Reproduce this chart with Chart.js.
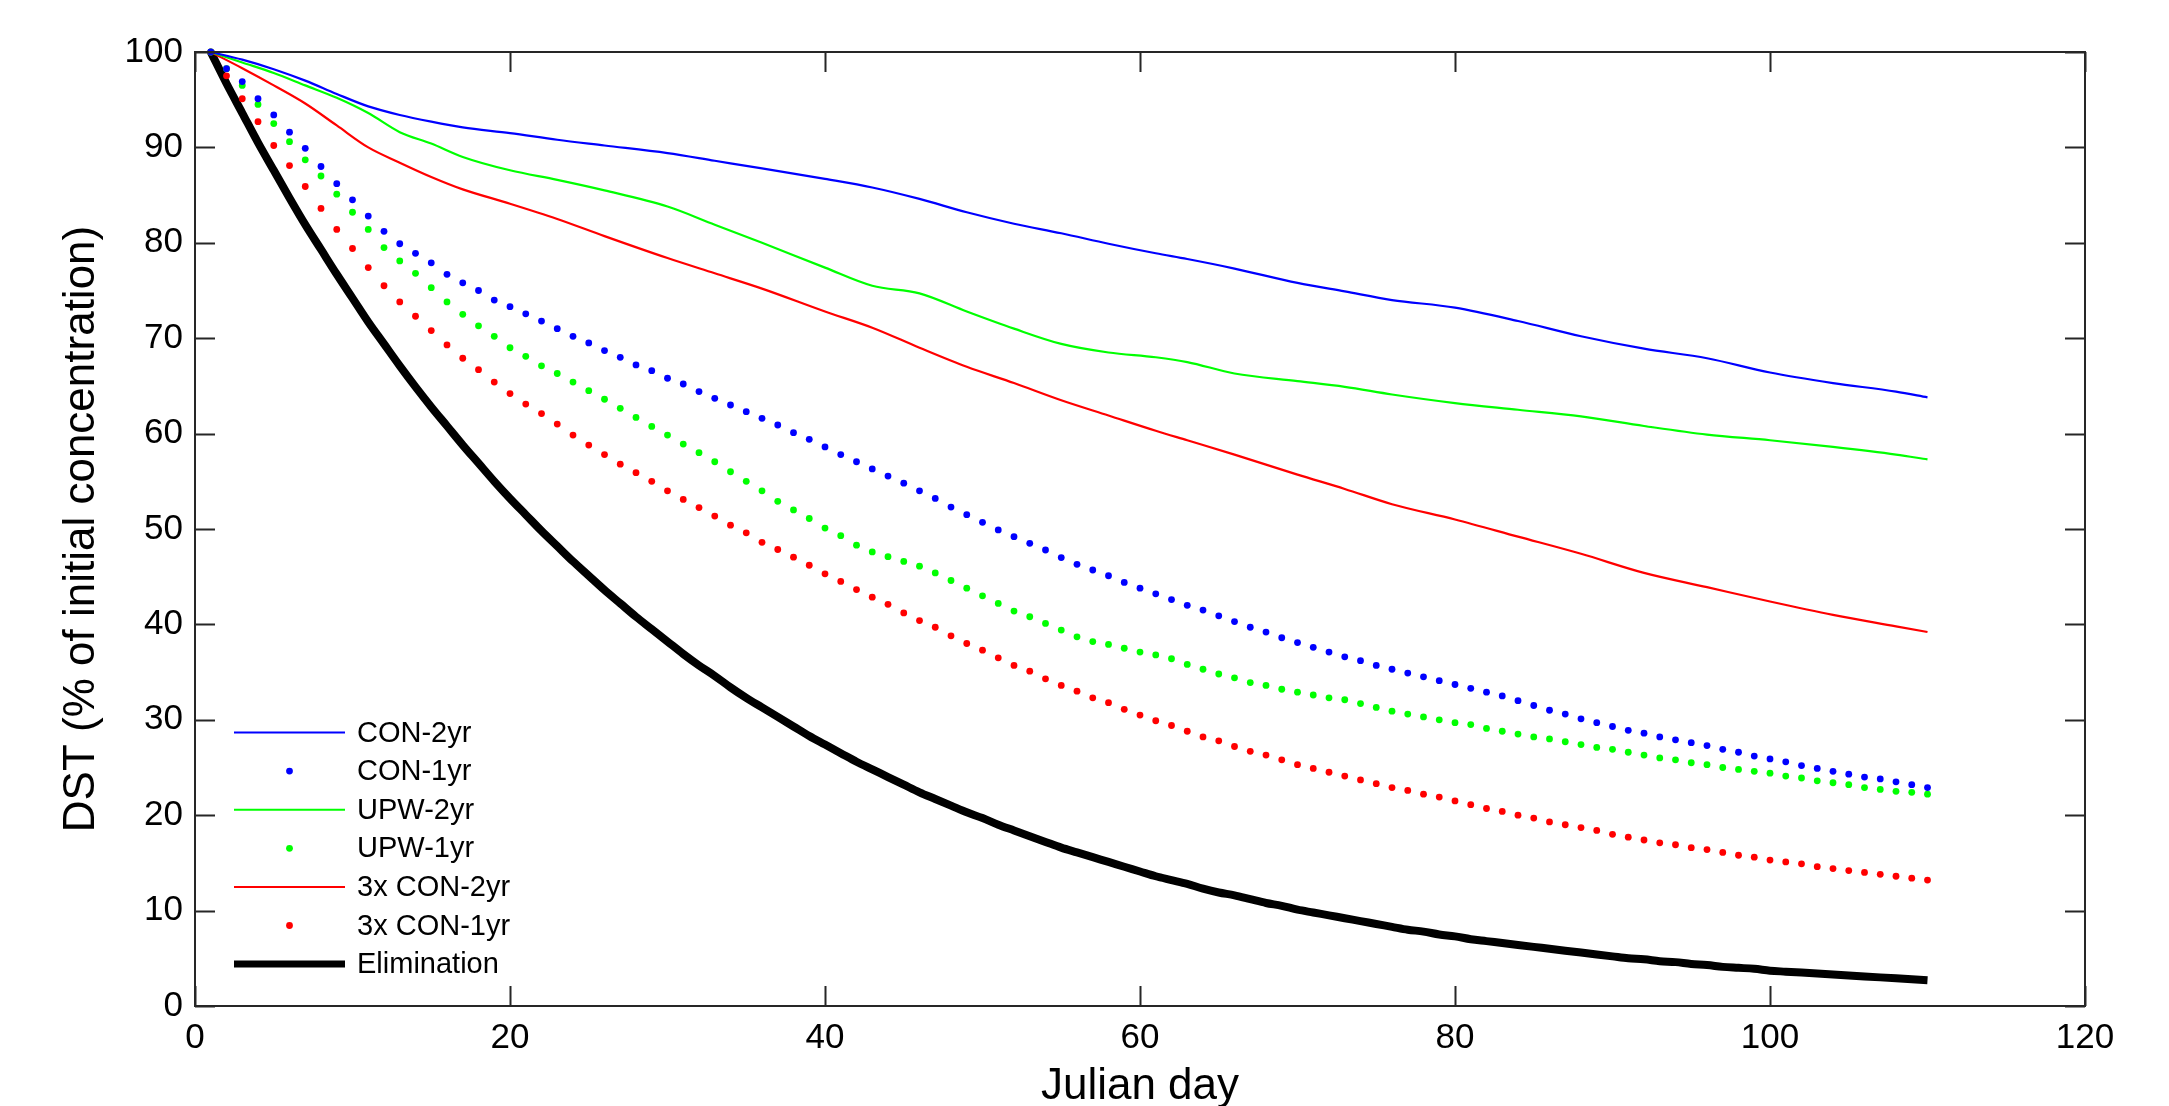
<!DOCTYPE html>
<html>
<head>
<meta charset="utf-8">
<script src="https://cdn.jsdelivr.net/npm/chart.js@4.4.1/dist/chart.umd.min.js"></script>
<style>
  html, body { margin: 0; padding: 0; background: #fff; }
  #wrap { width: 2169px; height: 1106px; position: relative; }
</style>
</head>
<body>
<div id="wrap"><canvas id="dstChart"></canvas></div>
<script>
// Julian days with a daily value (dotted series and elimination curve)
const days = [
  1, 2, 3, 4, 5, 6, 7, 8, 9, 10, 11, 12, 13, 14, 15, 16, 17, 18, 19, 20,
  21, 22, 23, 24, 25, 26, 27, 28, 29, 30, 31, 32, 33, 34, 35, 36, 37, 38, 39, 40,
  41, 42, 43, 44, 45, 46, 47, 48, 49, 50, 51, 52, 53, 54, 55, 56, 57, 58, 59, 60,
  61, 62, 63, 64, 65, 66, 67, 68, 69, 70, 71, 72, 73, 74, 75, 76, 77, 78, 79, 80,
  81, 82, 83, 84, 85, 86, 87, 88, 89, 90, 91, 92, 93, 94, 95, 96, 97, 98, 99, 100,
  101, 102, 103, 104, 105, 106, 107, 108, 109, 110
];

const solidDays = [1, 3, 5, 7, 9, 11, 13, 15, 17, 20, 23, 26, 30, 33, 36, 40, 43, 46, 49, 52,
  55, 58, 61, 63, 66, 70, 73, 76, 80, 84, 88, 92, 96, 100, 104, 108, 110];

const con2yr = [100, 99.2, 98.2, 97.0, 95.6, 94.3, 93.4, 92.7, 92.1, 91.5, 90.8, 90.2, 89.4, 88.6,
  87.8, 86.7, 85.8, 84.6, 83.2, 82.0, 81.0, 79.9, 78.9, 78.3, 77.3, 75.8, 74.9, 74.0, 73.2, 71.8,
  70.2, 68.9, 67.9, 66.4, 65.3, 64.4, 63.8];

const upw2yr = [100, 98.9, 97.8, 96.5, 95.2, 93.6, 91.6, 90.4, 89.0, 87.6, 86.6, 85.5, 83.8, 81.9,
  80.0, 77.4, 75.5, 74.7, 72.8, 71.0, 69.4, 68.5, 68.0, 67.5, 66.3, 65.5, 64.9, 64.1, 63.2, 62.5,
  61.8, 60.8, 59.9, 59.3, 58.6, 57.8, 57.3];

const con3x2yr = [100, 98.3, 96.5, 94.6, 92.3, 90.0, 88.4, 86.9, 85.6, 84.1, 82.5, 80.7, 78.4, 76.8,
  75.2, 72.8, 71.1, 69.0, 67.0, 65.3, 63.5, 61.9, 60.3, 59.3, 57.8, 55.7, 54.2, 52.6, 51.0, 49.2,
  47.4, 45.4, 43.9, 42.4, 41.0, 39.8, 39.2];

const con1yr = [
  100, 98.25, 96.9, 95.1, 93.4, 91.6, 89.9, 88.0, 86.2, 84.5, 82.8, 81.2, 79.9, 78.9, 77.9, 76.7, 75.8, 75.0, 74.0, 73.3,
  72.55, 71.8, 71.0, 70.2, 69.5, 68.7, 68.0, 67.2, 66.6, 65.8, 65.2, 64.4, 63.7, 63.0, 62.3, 61.6, 60.9, 60.1, 59.4, 58.6,
  57.8, 57.05, 56.3, 55.55, 54.8, 54.0, 53.2, 52.3, 51.5, 50.7, 49.9, 49.2, 48.5, 47.8, 47.0, 46.3, 45.7, 45.1, 44.4, 43.8,
  43.2, 42.6, 42.0, 41.5, 40.9, 40.3, 39.7, 39.2, 38.6, 38.1, 37.6, 37.1, 36.6, 36.2, 35.7, 35.3, 34.9, 34.5, 34.1, 33.7,
  33.3, 32.9, 32.5, 32.0, 31.5, 31.0, 30.6, 30.1, 29.7, 29.3, 28.9, 28.6, 28.2, 27.9, 27.6, 27.3, 26.9, 26.6, 26.2, 25.9,
  25.6, 25.2, 24.9, 24.6, 24.3, 24.0, 23.8, 23.5, 23.2, 22.9
];

const upw1yr = [
  100, 98.25, 96.5, 94.5, 92.5, 90.6, 88.7, 87.0, 85.1, 83.2, 81.4, 79.5, 78.1, 76.8, 75.3, 73.8, 72.5, 71.3, 70.2, 69.0,
  68.1, 67.1, 66.3, 65.4, 64.5, 63.6, 62.65, 61.7, 60.75, 59.85, 58.9, 58.0, 57.05, 56.0, 55.0, 54.0, 52.9, 52.0, 51.1, 50.1,
  49.3, 48.3, 47.6, 47.1, 46.6, 46.1, 45.4, 44.6, 43.8, 43.0, 42.2, 41.4, 40.8, 40.1, 39.4, 38.7, 38.2, 37.9, 37.5, 37.1,
  36.8, 36.4, 35.8, 35.3, 34.8, 34.4, 33.9, 33.6, 33.2, 32.9, 32.6, 32.3, 32.1, 31.7, 31.3, 30.9, 30.6, 30.3, 30.0, 29.7,
  29.5, 29.1, 28.8, 28.5, 28.2, 28.0, 27.7, 27.4, 27.1, 26.9, 26.6, 26.3, 26.0, 25.8, 25.5, 25.3, 25.0, 24.8, 24.6, 24.4,
  24.1, 23.9, 23.6, 23.4, 23.2, 22.9, 22.7, 22.5, 22.4, 22.2
];

const con3x1yr = [
  100, 97.5, 95.1, 92.7, 90.2, 88.1, 85.9, 83.6, 81.4, 79.4, 77.4, 75.5, 73.8, 72.3, 70.8, 69.3, 67.9, 66.7, 65.4, 64.2,
  63.1, 62.1, 61.0, 59.85, 58.8, 57.8, 56.8, 55.9, 55.0, 54.0, 53.1, 52.25, 51.35, 50.4, 49.6, 48.6, 47.85, 47.05, 46.2, 45.3,
  44.5, 43.65, 42.85, 42.1, 41.2, 40.4, 39.7, 38.8, 38.0, 37.3, 36.5, 35.7, 35.1, 34.3, 33.6, 33.0, 32.3, 31.8, 31.1, 30.5,
  29.9, 29.4, 28.8, 28.2, 27.8, 27.2, 26.7, 26.3, 25.8, 25.3, 24.9, 24.5, 24.1, 23.7, 23.3, 22.9, 22.6, 22.2, 21.9, 21.5,
  21.1, 20.7, 20.4, 20.0, 19.7, 19.3, 19.0, 18.7, 18.4, 18.0, 17.7, 17.4, 17.1, 16.9, 16.6, 16.4, 16.1, 15.8, 15.6, 15.3,
  15.1, 14.9, 14.6, 14.4, 14.2, 14.0, 13.8, 13.6, 13.4, 13.2
];

const elimination = [
  100, 96.7, 93.6, 90.5, 87.6, 84.7, 81.9, 79.3, 76.7, 74.2, 71.7, 69.4, 67.1, 64.9, 62.8, 60.8, 58.8, 56.9, 55.0, 53.2,
  51.5, 49.8, 48.2, 46.6, 45.1, 43.6, 42.2, 40.8, 39.5, 38.2, 36.9, 35.7, 34.6, 33.4, 32.3, 31.3, 30.3, 29.3, 28.3, 27.4,
  26.5, 25.6, 24.8, 24.0, 23.2, 22.4, 21.7, 21.0, 20.3, 19.7, 19.0, 18.4, 17.8, 17.2, 16.6, 16.1, 15.6, 15.1, 14.6, 14.1,
  13.6, 13.2, 12.8, 12.3, 11.9, 11.6, 11.2, 10.8, 10.5, 10.1, 9.8, 9.5, 9.2, 8.9, 8.6, 8.3, 8.0, 7.8, 7.5, 7.3,
  7.0, 6.8, 6.6, 6.4, 6.2, 6.0, 5.8, 5.6, 5.4, 5.2, 5.0, 4.9, 4.7, 4.6, 4.4, 4.3, 4.1, 4.0, 3.9, 3.7,
  3.6, 3.5, 3.4, 3.3, 3.2, 3.1, 3.0, 2.9, 2.8, 2.7
];

const seriesLabels = ['CON-2yr', 'CON-1yr', 'UPW-2yr', 'UPW-1yr', '3x CON-2yr', '3x CON-1yr', 'Elimination'];
const xTicks = [0, 20, 40, 60, 80, 100, 120];
const yTicks = [0, 10, 20, 30, 40, 50, 60, 70, 80, 90, 100];

const FONT = "'Liberation Sans', Arial, Helvetica, sans-serif";

// pair up an x array with a y array
function toPoints(xs, ys) {
    return ys.map((v, i) => ({ x: xs[i], y: v }));
}

function solidSet(label, xs, ys, color, width) {
    return {
        label: label,
        data: toPoints(xs, ys),
        borderColor: color,
        backgroundColor: color,
        borderWidth: width,
        pointRadius: 0,
        cubicInterpolationMode: 'monotone',
        borderCapStyle: 'butt',
        fill: false,
        clip: 10,
    };
}

function dotSet(label, xs, ys, color) {
    return {
        label: label,
        data: toPoints(xs, ys),
        showLine: false,
        borderColor: color,
        backgroundColor: color,
        pointRadius: 3.4,
        pointBorderWidth: 0,
        pointHoverRadius: 3.4,
        clip: 10,
    };
}

// box frame, inward ticks on all four sides, and the in-plot legend
const frameAndLegend = {
    id: 'frameAndLegend',
    afterDatasetsDraw(chart) {
        const { ctx, chartArea: a, scales: { x, y } } = chart;
        ctx.save();
        ctx.strokeStyle = '#262626';
        ctx.lineWidth = 2;
        ctx.strokeRect(a.left, a.top, a.right - a.left, a.bottom - a.top);
        ctx.beginPath();
        xTicks.forEach(t => {
            const px = Math.round(x.getPixelForValue(t)) + 0.5;
            ctx.moveTo(px, a.bottom); ctx.lineTo(px, a.bottom - 20);
            ctx.moveTo(px, a.top); ctx.lineTo(px, a.top + 20);
        });
        yTicks.forEach(t => {
            const py = Math.round(y.getPixelForValue(t)) + 0.5;
            ctx.moveTo(a.left, py); ctx.lineTo(a.left + 20, py);
            ctx.moveTo(a.right, py); ctx.lineTo(a.right - 20, py);
        });
        ctx.stroke();

        // legend, lower left inside the axes
        const lx0 = a.left + 39, lx1 = a.left + 150, tx = a.left + 162;
        const rowH = 38.6;
        let ry = a.bottom - 273.5;
        ctx.font = '29px ' + FONT;
        ctx.textBaseline = 'middle';
        ctx.textAlign = 'left';
        chart.data.datasets.forEach(ds => {
            if (ds.showLine === false) {
                ctx.fillStyle = ds.backgroundColor;
                ctx.beginPath();
                ctx.arc((lx0 + lx1) / 2, ry, 3.4, 0, Math.PI * 2);
                ctx.fill();
            } else {
                ctx.strokeStyle = ds.borderColor;
                ctx.lineWidth = ds.borderWidth > 3 ? 7 : 2;
                ctx.lineCap = 'butt';
                ctx.beginPath();
                ctx.moveTo(lx0, ry);
                ctx.lineTo(lx1, ry);
                ctx.stroke();
            }
            ctx.fillStyle = '#000';
            ctx.fillText(ds.label, tx, ry + 1);
            ry += rowH;
        });
        ctx.restore();
    }
};

function initializeChart() {
    const ctx = document.getElementById('dstChart').getContext('2d');
    new Chart(ctx, {
        type: 'line',
        data: {
            datasets: [
                solidSet(seriesLabels[0], solidDays, con2yr, '#0000ff', 2.2),
                dotSet(seriesLabels[1], days, con1yr, '#0000ff'),
                solidSet(seriesLabels[2], solidDays, upw2yr, '#00ff00', 2.2),
                dotSet(seriesLabels[3], days, upw1yr, '#00ff00'),
                solidSet(seriesLabels[4], solidDays, con3x2yr, '#ff0000', 2.2),
                dotSet(seriesLabels[5], days, con3x1yr, '#ff0000'),
                solidSet(seriesLabels[6], days, elimination, '#000000', 8),
            ],
        },
        options: {
            responsive: true,
            maintainAspectRatio: false,
            animation: false,
            events: [],
            layout: { padding: { left: 0, right: 84, top: 52, bottom: 0 } },
            plugins: {
                legend: { display: false },
                tooltip: { enabled: false },
            },
            scales: {
                x: {
                    type: 'linear',
                    min: 0,
                    max: 120,
                    afterBuildTicks: scale => { scale.ticks = xTicks.map(v => ({ value: v })); },
                    afterFit: scale => { scale.height = 100; },
                    grid: { display: false, drawTicks: false },
                    border: { display: false },
                    ticks: {
                        color: '#000',
                        padding: 11,
                        maxRotation: 0,
                        font: { family: FONT, size: 35 },
                    },
                    title: {
                        display: true,
                        text: 'Julian day',
                        color: '#000',
                        font: { family: FONT, size: 44, lineHeight: 0.87 },
                        padding: { top: 0, bottom: 0 },
                    },
                },
                y: {
                    type: 'linear',
                    min: 0,
                    max: 100,
                    afterBuildTicks: scale => { scale.ticks = yTicks.map(v => ({ value: v })); },
                    afterFit: scale => { scale.width = 195; },
                    grid: { display: false, drawTicks: false },
                    border: { display: false },
                    ticks: {
                        color: '#000',
                        padding: 12,
                        font: { family: FONT, size: 35 },
                    },
                    title: {
                        display: true,
                        text: 'DST (% of initial concentration)',
                        color: '#000',
                        font: { family: FONT, size: 44, lineHeight: 1.2 },
                        padding: { top: 55, bottom: 0 },
                    },
                },
            },
        },
        plugins: [frameAndLegend],
    });
}

window.onload = initializeChart;
</script>
</body>
</html>
